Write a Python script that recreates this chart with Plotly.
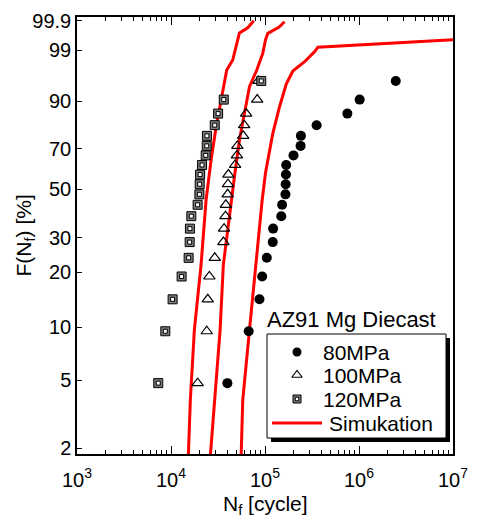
import numpy as np
import plotly.graph_objects as go

# ---------------- data ----------------
F_rank = [4.8, 9.5, 14.3, 19.0, 23.8, 28.6, 33.3, 38.1, 42.9, 47.6,
          52.4, 57.1, 61.9, 66.7, 71.4, 76.2, 81.0, 85.7, 90.5, 95.2]
N_80 = [39800, 67100, 87300, 93300, 104500, 121000, 122000, 149000, 152000, 165000,
        166000, 167000, 168000, 201000, 239000, 241000, 354000, 752000, 1016000, 2460000]
N_100 = [19200, 24000, 24600, 25600, 29200, 36100, 36700, 38000, 38300, 40100,
         40400, 40800, 48100, 50300, 50800, 58600, 60000, 63000, 82600, 85300]
N_120 = [7320, 8700, 10400, 12970, 15400, 15800, 15900, 16450, 19200, 20050,
         20200, 20400, 21400, 23400, 24000, 24100, 29200, 31700, 36400, 91200]

sim120_N = [15110, 16060, 17720, 20880, 23610, 26700, 30180, 34980, 39150, 45370, 50530, 53470, 65560, 75950]
sim120_F = [1.5, 3.83, 9.66, 21.84, 45.02, 64.38, 80.19, 92.39, 97.05, 98.24, 99.39, 99.71, 99.81, 99.90]
sim100_N = [25540, 28940, 33300, 36020, 43620, 47300, 53470, 61970, 68380, 81750, 94730, 101200, 107100, 140300, 161400]
sim100_F = [1.5, 3.83, 9.66, 21.84, 45.02, 56.04, 74.23, 88.19, 93.96, 97.05, 98.80, 99.51, 99.70, 99.82, 99.89]
sim80_N = [55200, 57990, 68380, 79780, 93330, 101200, 111700, 121100, 142800, 168300, 197900, 263700, 337100, 365500, 10000000]
sim80_F = [1.5, 3.83, 9.66, 21.84, 45.02, 57.88, 69.36, 77.38, 88.19, 94.56, 96.91, 98.07, 98.92, 99.19, 99.51]

series_names = ['80MPa', '100MPa', '120MPa', 'Simukation']
y_ticks = [2, 5, 10, 20, 30, 50, 70, 90, 99, 99.9]
y_ticklabels = ['2', '5', '10', '20', '30', '50', '70', '90', '99', '99.9']
x_ticks = [1e3, 1e4, 1e5, 1e6, 1e7]
x_ticklabels = ['10<sup>3</sup>', '10<sup>4</sup>', '10<sup>5</sup>', '10<sup>6</sup>', '10<sup>7</sup>']
x_title = 'N<sub>f</sub> [cycle]'
y_title = 'F(N<sub>f</sub>) [%]'
box_title = 'AZ91 Mg Diecast'


def weib(F):
    """Weibull probability-paper transform of F in percent."""
    F = np.asarray(F, dtype=float) / 100.0
    return np.log(-np.log(1.0 - F))


FONT = 'Liberation Sans, Arial, sans-serif'
RED = '#ff0000'

# marker styles shared by plot and legend
M80 = dict(symbol='circle', size=10, color='black')
M100 = dict(symbol='triangle-up-open', size=10, color='black', line=dict(width=1.2))
M120 = dict(symbol='square', size=9, color='#7a7a7a', line=dict(color='black', width=1))
M120_IN = dict(symbol='square', size=4, color='white', line=dict(color='black', width=1))
SIMLINE = dict(color=RED, width=3)

fig = go.Figure()

# simulation curves
for n, f in [(sim120_N, sim120_F), (sim100_N, sim100_F), (sim80_N, sim80_F)]:
    fig.add_trace(go.Scatter(x=n, y=weib(f), mode='lines', name='Simukation', line=SIMLINE))

fig.add_trace(go.Scatter(x=N_80, y=weib(F_rank), mode='markers', name='80MPa', marker=M80))
fig.add_trace(go.Scatter(x=N_100, y=weib(F_rank), mode='markers', name='100MPa', marker=M100))
fig.add_trace(go.Scatter(x=N_120, y=weib(F_rank), mode='markers', name='120MPa', marker=M120))
fig.add_trace(go.Scatter(x=N_120, y=weib(F_rank), mode='markers', hoverinfo='skip', marker=M120_IN))

minor_vals = [m * 10 ** d for d in range(3, 7) for m in range(2, 10)]

fig.update_xaxes(
    type='log', range=[3, 7], tickmode='array', tickvals=x_ticks, ticktext=x_ticklabels,
    ticks='inside', ticklen=8, tickwidth=1, tickcolor='black',
    showline=True, linecolor='black', linewidth=1.5, mirror='ticks',
    showgrid=False, zeroline=False, automargin=False, ticklabelstandoff=7,
    minor=dict(tickmode='array', tickvals=minor_vals, ticks='inside', ticklen=4,
               tickwidth=1, tickcolor='black', showgrid=False),
    tickfont=dict(size=20))

fig.update_yaxes(
    range=[-3.979, 1.983], tickmode='array', tickvals=weib(y_ticks), ticktext=y_ticklabels,
    ticks='inside', ticklen=5, tickwidth=1, tickcolor='black',
    showline=True, linecolor='black', linewidth=1.5, mirror=True,
    showgrid=False, zeroline=False, tickfont=dict(size=20), automargin=False)

# ---------------- layout geometry (pixels) ----------------
L, T, Rr, B = 77, 17, 453, 454


def pxx(x):
    return (x - L) / (Rr - L)


def pxy(y):
    return (B - y) / (B - T)


# axis titles
fig.add_annotation(text=x_title, xref='paper', yref='paper', x=pxx(265.5), y=pxy(505),
                   xanchor='center', yanchor='middle', showarrow=False,
                   font=dict(size=21, family=FONT, color='black'))
fig.add_annotation(text=y_title, xref='paper', yref='paper', x=pxx(24), y=pxy(235.5),
                   xanchor='center', yanchor='middle', showarrow=False, textangle=-90,
                   font=dict(size=21, family=FONT, color='black'))

# hidden pixel-space overlay axes used for the boxed legend
fig.update_layout(
    xaxis2=dict(overlaying='x', anchor='y2', range=[L, Rr], visible=False, fixedrange=True),
    yaxis2=dict(overlaying='y', anchor='x2', range=[B, T], visible=False, fixedrange=True),
)

box = dict(x0=267, x1=446, y0=334, y1=438)
shadow_off = 4
fig.add_shape(type='rect', xref='x2', yref='y2',
              x0=box['x0'] + shadow_off, x1=box['x1'] + shadow_off,
              y0=box['y0'] + shadow_off, y1=box['y1'] + shadow_off,
              fillcolor='black', line=dict(width=0), layer='below')
fig.add_shape(type='rect', xref='x2', yref='y2', **box,
              fillcolor='white', line=dict(color='black', width=1), layer='below')

rows_y = [352, 375, 399, 423]
sym_x = 297
text_x = [321, 321, 321, 327]
fig.add_trace(go.Scatter(x=[sym_x], y=[rows_y[0]], xaxis='x2', yaxis='y2', mode='markers',
                         marker=dict(M80, size=9), hoverinfo='skip'))
fig.add_trace(go.Scatter(x=[sym_x], y=[rows_y[1]], xaxis='x2', yaxis='y2', mode='markers',
                         marker=dict(M100, size=9), hoverinfo='skip'))
fig.add_trace(go.Scatter(x=[sym_x], y=[rows_y[2]], xaxis='x2', yaxis='y2', mode='markers',
                         marker=dict(M120, size=8), hoverinfo='skip'))
fig.add_trace(go.Scatter(x=[sym_x], y=[rows_y[2]], xaxis='x2', yaxis='y2', mode='markers',
                         marker=dict(M120_IN, size=3.5), hoverinfo='skip'))
fig.add_trace(go.Scatter(x=[272, 322], y=[rows_y[3]] * 2, xaxis='x2', yaxis='y2', mode='lines',
                         line=SIMLINE, hoverinfo='skip'))
for name, yy, xx in zip(series_names, rows_y, text_x):
    fig.add_annotation(text=name, xref='x2', yref='y2', x=xx, y=yy,
                       xanchor='left', yanchor='middle', showarrow=False,
                       font=dict(size=21, family=FONT, color='black'))

fig.add_annotation(text=box_title, xref='x2', yref='y2',
                   x=265, y=319, xanchor='left', yanchor='middle',
                   showarrow=False, font=dict(size=22, family=FONT, color='black'))

fig.update_layout(
    width=478, height=520,
    margin=dict(l=L, r=478 - Rr, t=T, b=520 - B),
    plot_bgcolor='white', paper_bgcolor='white',
    font=dict(family=FONT, size=20, color='black'),
    showlegend=False,
)

fig.write_html('out.html', config={'displayModeBar': False},
               post_script="document.body.style.margin='0';document.body.style.overflow='hidden';")
